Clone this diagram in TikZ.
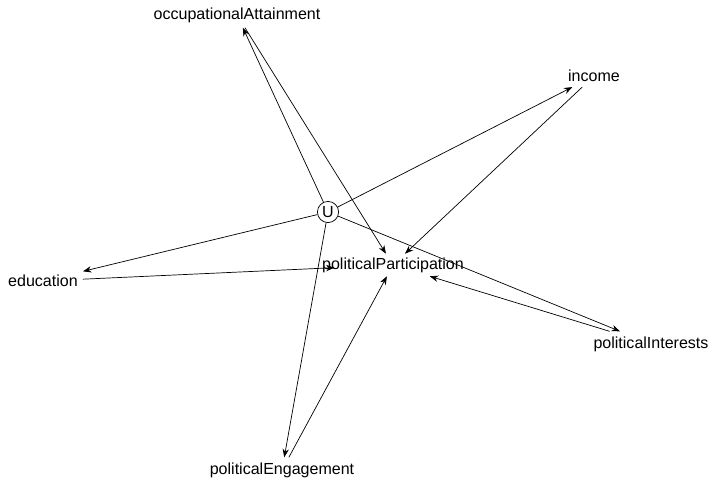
\documentclass[tikz,border=0pt]{standalone}
\usepackage{fontspec}
\setmainfont{Liberation Sans}
\usetikzlibrary{arrows.meta}
\begin{document}
\begin{tikzpicture}[x=0.025cm, y=-0.025cm,
    every node/.style={font=\fontsize{11.4}{13}\selectfont, inner sep=3.5pt},
    every edge/.style={draw, line width=0.5pt, -{Stealth[length=6pt, width=4.5pt]}}]
      \useasboundingbox (0,0) rectangle (710,480);
      \node (U) at (328,212) [circle, draw, line width=0.5pt, inner sep=1.3pt] {U};
      \node (occupation) at (237,15) {occupationalAttainment};
      \node (income) at (594,76) {income};
      \node (education) at (43,281) {education};
      \node (participation) at (393,265) [inner xsep=-9pt, inner ysep=2.5pt] {politicalParticipation};
      \node (interests) at (651,344) {politicalInterests};
      \node (engagement) at (282,470) {politicalEngagement};
      \foreach \source/\dest in {U/occupation, U/income, U/education, U/interests, U/engagement, occupation/participation, income/participation, education/participation, interests/participation, engagement/participation}
        \path (\source) edge (\dest);
\end{tikzpicture}
\end{document}
